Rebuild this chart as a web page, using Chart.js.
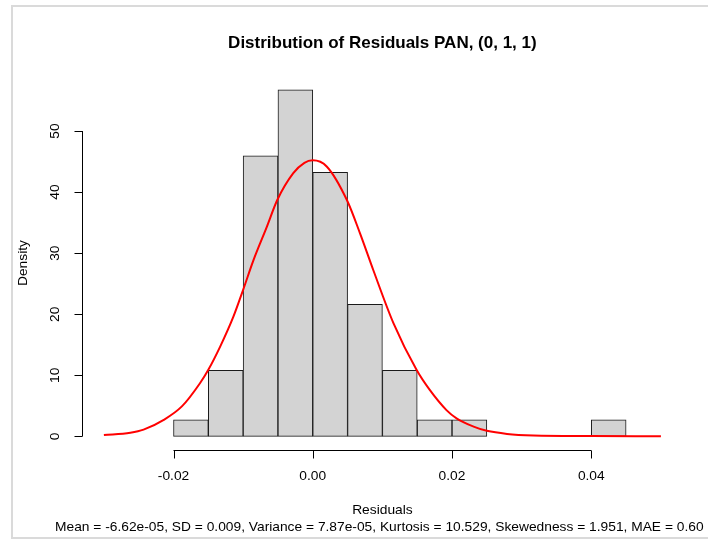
<!DOCTYPE html>
<html>
<head>
<meta charset="utf-8">
<title>Distribution of Residuals PAN</title>
<script src="https://cdn.jsdelivr.net/npm/chart.js@4.4.1/dist/chart.umd.min.js"></script>
<style>
    html, body { margin: 0; padding: 0; background: #fff; overflow: hidden; }
    #wrap { position: relative; width: 708px; height: 543px; }
    #frame {
        position: absolute; left: 11px; top: 5px; width: 720px; height: 530px;
        border: 2px solid #dadada; border-right: none; pointer-events: none;
    }
    canvas { position: absolute; left: 0; top: 0; }
</style>
</head>
<body>
<div id="wrap">
    <canvas id="residChart" width="708" height="543"></canvas>
    <div id="frame"></div>
</div>
<script>
// histogram bins (width 0.005) and their densities
var binStarts = [-0.020, -0.015, -0.010, -0.005, 0.000, 0.005, 0.010, 0.015, 0.020, 0.025, 0.030, 0.035, 0.040];
var binDensity = [2.70, 10.81, 45.95, 56.76, 43.24, 21.62, 10.81, 2.70, 2.70, 0, 0, 0, 2.70];
var binWidth = 0.005;

// red curve
var curveX = [-0.0300, -0.0262, -0.0243, -0.0214, -0.0188, -0.0162, -0.0150, -0.0133, -0.0114, -0.0100,
    -0.0085, -0.0066, -0.0051, -0.0028, -0.0012, 0.0000, 0.0020, 0.0049, 0.0068, 0.0087,
    0.0116, 0.0149, 0.0168, 0.0192, 0.0207, 0.0231, 0.0250, 0.0279, 0.0317, 0.0400, 0.0500];
var curveY = [0.2, 0.6, 1.1, 2.7, 4.9, 8.7, 10.9, 14.7, 19.6, 24.0,
    28.9, 34.3, 38.7, 43.1, 44.8, 45.2, 44.2, 38.7, 33.2, 27.2,
    18.5, 10.9, 7.6, 4.3, 2.9, 1.6, 0.9, 0.4, 0.15, 0.05, 0.0];

var xTicks = [-0.02, 0.00, 0.02, 0.04];
var xTickLabels = ['-0.02', '0.00', '0.02', '0.04'];
var yTicks = [0, 10, 20, 30, 40, 50];

var titleText = 'Distribution of Residuals PAN, (0, 1, 1)';
var xLabel = 'Residuals';
var yLabel = 'Density';
var statsText = 'Mean = -6.62e-05, SD = 0.009, Variance = 7.87e-05, Kurtosis = 10.529, Skewedness = 1.951, MAE = 0.60';

var FONT = '"Liberation Sans", Arial, sans-serif';
var TEXT_STRETCH = 1.06; // R's text comes out a touch wider than Liberation Sans

var histData = binStarts.map(function (b, i) {
    return { x: b + binWidth / 2, y: binDensity[i] };
});
var curveData = curveX.map(function (x, i) {
    return { x: x, y: curveY[i] };
});

function drawText(ctx, text, x, y, angle, align) {
    ctx.save();
    ctx.translate(x, y);
    if (angle) {
        ctx.rotate(angle);
    }
    ctx.scale(TEXT_STRETCH, 1);
    ctx.textAlign = align || 'center';
    ctx.fillText(text, 0, 0);
    ctx.restore();
}

// R style axes: line only across the tick range, ticks pointing outward
var rAxes = {
    id: 'rAxes',
    afterDraw: function (chart) {
        var ctx = chart.ctx;
        var xs = chart.scales.x;
        var ys = chart.scales.y;
        var area = chart.chartArea;
        var tick = 8;
        ctx.save();
        ctx.strokeStyle = '#000';
        ctx.lineWidth = 1;
        ctx.fillStyle = '#000';
        ctx.font = '13px ' + FONT;
        ctx.textBaseline = 'middle';

        // x axis
        var ax = Math.round(area.bottom) + 0.5;
        var x0 = xs.getPixelForValue(xTicks[0]);
        var x1 = xs.getPixelForValue(xTicks[xTicks.length - 1]);
        ctx.beginPath();
        ctx.moveTo(x0, ax);
        ctx.lineTo(x1, ax);
        xTicks.forEach(function (t) {
            var px = Math.round(xs.getPixelForValue(t)) + 0.5;
            ctx.moveTo(px, ax);
            ctx.lineTo(px, ax + tick);
        });
        ctx.stroke();
        xTicks.forEach(function (t, i) {
            drawText(ctx, xTickLabels[i], xs.getPixelForValue(t), ax + 26);
        });

        // y axis
        var ay = Math.round(area.left) + 0.5;
        var y0 = ys.getPixelForValue(yTicks[0]);
        var y1 = ys.getPixelForValue(yTicks[yTicks.length - 1]);
        ctx.beginPath();
        ctx.moveTo(ay, y0);
        ctx.lineTo(ay, y1);
        yTicks.forEach(function (t) {
            var py = Math.round(ys.getPixelForValue(t)) + 0.5;
            ctx.moveTo(ay, py);
            ctx.lineTo(ay - tick, py);
        });
        ctx.stroke();
        yTicks.forEach(function (t) {
            drawText(ctx, String(t), ay - 27, ys.getPixelForValue(t), -Math.PI / 2);
        });

        // axis titles and the stats line
        drawText(ctx, yLabel, 23, (area.top + area.bottom) / 2, -Math.PI / 2);
        drawText(ctx, xLabel, (area.left + area.right) / 2, 510);
        drawText(ctx, statsText, 55, 527, 0, 'left');
        ctx.restore();
    }
};

var canvas = document.getElementById('residChart');
new Chart(canvas.getContext('2d'), {
    type: 'bar',
    data: {
        datasets: [{
            type: 'line',
            label: 'Curve',
            data: curveData,
            borderColor: '#ff0000',
            borderWidth: 2,
            pointRadius: 0,
            fill: false,
            cubicInterpolationMode: 'monotone',
            order: 0
        }, {
            label: 'Residuals',
            data: histData,
            backgroundColor: '#d3d3d3',
            borderColor: '#1a1a1a',
            borderWidth: 1,
            borderSkipped: false,
            barPercentage: 1,
            categoryPercentage: 1,
            order: 1
        }]
    },
    options: {
        responsive: false,
        animation: false,
        layout: { padding: { left: 81.6, right: 24.8, top: 0, bottom: 92.8 } },
        plugins: {
            legend: { display: false },
            tooltip: { enabled: false },
            title: {
                display: true,
                text: titleText,
                color: '#000',
                font: { family: FONT, size: 17, weight: 'bold' },
                padding: { top: 33, bottom: 22.5 }
            }
        },
        scales: {
            x: { type: 'linear', display: false, offset: false, min: -0.0332, max: 0.0532 },
            y: { type: 'linear', display: false, min: -2.27, max: 59.03, beginAtZero: false }
        }
    },
    plugins: [rAxes]
});
</script>
</body>
</html>
